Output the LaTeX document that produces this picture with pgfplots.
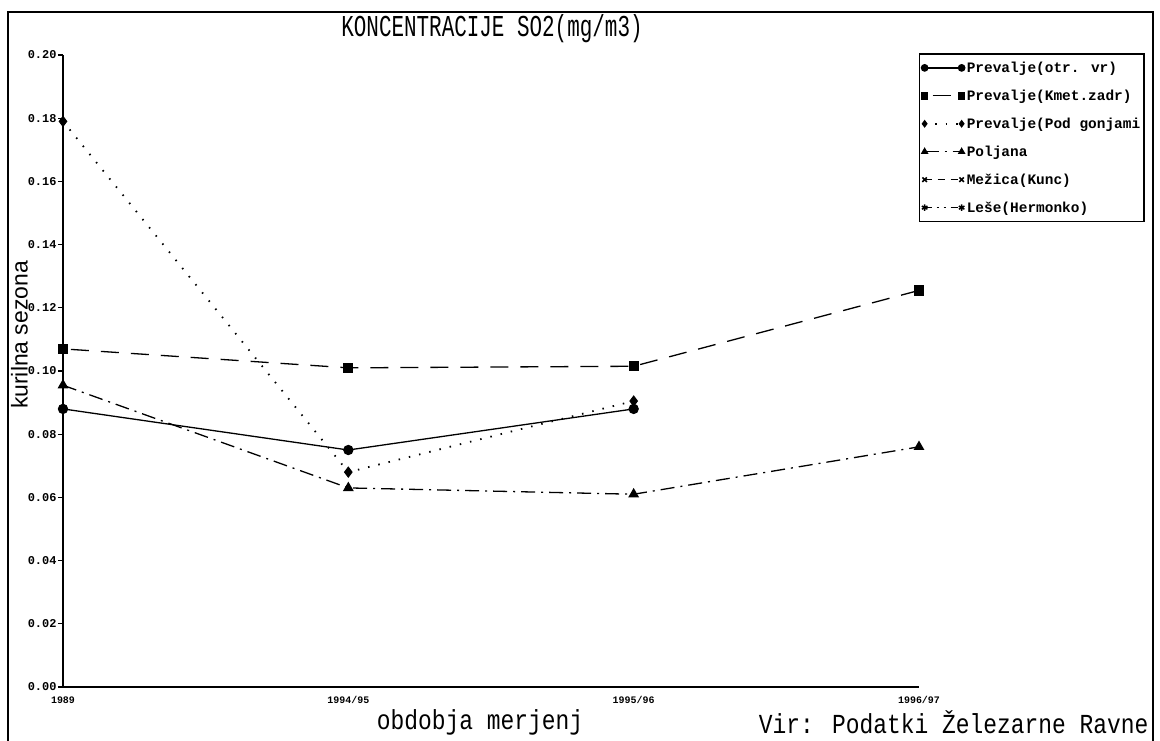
\documentclass[border=0pt]{standalone}
\usepackage{pgfplots}
\pgfplotsset{compat=1.18}
\usepackage{fontspec}
\setmainfont{Liberation Sans}
\newfontfamily\plotmono{Liberation Mono}
\begin{document}
\begin{tikzpicture}
\useasboundingbox (0bp,0bp) rectangle (1160bp,-741bp);
\draw[line width=1.6bp] (8bp,-741bp) -- (8bp,-12bp) -- (1153bp,-12bp) -- (1153bp,-741bp);
\node at (492bp,-29bp) {\scalebox{1}[1.45]{\plotmono\fontsize{21}{24}\selectfont KONCENTRACIJE SO2(mg/m3)}};
\node[anchor=east] at (1152bp,-722bp) {\scalebox{1}[1.2]{\plotmono\fontsize{23}{26}\selectfont Vir: Podatki Železarne Ravne}};
\node at (480bp,-722bp) {\scalebox{1}[1.2]{\plotmono\fontsize{23}{26}\selectfont obdobja merjenj}};
\begin{axis}[
  at={(63bp,-687bp)}, anchor=south west,
  scale only axis, width=856bp, height=632bp,
  xmin=0, xmax=3, ymin=0, ymax=0.2,
  axis x line=bottom, axis y line=left,
  axis line style={-, line width=1.3bp},
  clip=false,
  xtick={0,1,2,3},
  xticklabels={1989,1994/95,1995/96,1996/97},
  x tick style={draw=none},
  x tick label style={font=\plotmono\bfseries\fontsize{10}{11}\selectfont, yshift=-1bp},
  ytick={0,0.02,0.04,0.06,0.08,0.1,0.12,0.14,0.16,0.18,0.2},
  y tick style={line width=1.2bp, black},
  tick align=outside,
  major tick length=5bp,
  y tick label style={font=\plotmono\bfseries\fontsize{12}{13}\selectfont, xshift=2bp},
  /pgf/number format/.cd, fixed, fixed zerofill, precision=2, assume math mode=true,
  /pgfplots/.cd,
  ylabel={kurilna sezona},
  ylabel style={font=\fontsize{23}{25}\selectfont, at={(axis description cs:-0.051,0.557)}, anchor=center},
  every axis plot/.append style={line width=1.3bp, black},
  legend style={at={(axis description cs:1.264,1.003)}, anchor=north east,
    draw=black, line width=1.6bp, fill=white,
    font=\plotmono\bfseries\fontsize{14.5}{16}\selectfont,
    row sep=12bp, inner xsep=2bp, inner ysep=6bp,
    cells={anchor=west}},
  legend image code/.code={\draw[mark repeat=1,#1,mark size=3.2bp] plot coordinates {(0bp,0bp) (37bp,0bp)};},
]
\addplot[solid, mark=*, mark size=4.5bp] coordinates {(0,0.088) (1,0.075) (2,0.088)};
\addlegendentry{Prevalje(otr. vr)}
\addplot[dash pattern=on 18bp off 12bp, dash phase=-8bp, mark=square*, mark size=4.5bp, mark options={solid}] coordinates {(0,0.107) (1,0.101) (2,0.1015) (3,0.1255)};
\addlegendentry{Prevalje(Kmet.zadr)}
\addplot[line width=1.8bp, dash pattern=on 1.5bp off 9bp, mark=diamond*, mark size=5bp, mark options={solid, line width=1bp}] coordinates {(0,0.179) (1,0.068) (2,0.0905)};
\addlegendentry{Prevalje(Pod gonjami}
\addplot[dash pattern=on 14bp off 6bp on 2bp off 6bp, mark=triangle*, mark size=5bp, mark options={solid}] coordinates {(0,0.0955) (1,0.063) (2,0.061) (3,0.076)};
\addlegendentry{Poljana}
\addlegendimage{black, line width=1.3bp, dash pattern=on 7bp off 6bp, mark=x, mark size=4bp, mark options={solid, line width=1.5bp}}
\addlegendentry{Mežica(Kunc)}
\addlegendimage{black, line width=1.3bp, dash pattern=on 7bp off 5bp on 2bp off 5bp on 2bp off 5bp, mark=asterisk, mark size=4bp, mark options={solid, line width=1.5bp}}
\addlegendentry{Leše(Hermonko)}
\end{axis}
\end{tikzpicture}
\end{document}
